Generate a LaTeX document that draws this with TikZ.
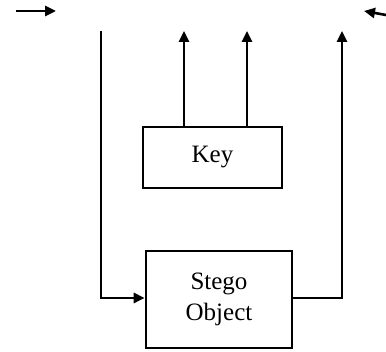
\documentclass[tikz,border=0pt]{standalone}
\usepackage{fontspec}
\setmainfont{Liberation Serif}
\usetikzlibrary{arrows.meta}
\begin{document}
\begin{tikzpicture}[x=1pt,y=-1pt,
  box/.style={draw,line width=2.6pt,inner sep=0pt,align=center,
    font=\fontsize{25}{31}\selectfont},
  link/.style={line width=2.6pt},
  arr/.style={link,-{Triangle[length=11pt,width=10pt]}}]
\useasboundingbox (0,0) rectangle (386,352);
% blocks
\node[box,minimum width=139pt,minimum height=61pt] (key) at (212.5,157.5) {Key};
\node[box,minimum width=146pt,minimum height=97pt] (stego) at (219,299.5) {Stego\\Object};
% free ends
\coordinate (inL) at (16,11);
\coordinate (inLend) at (56,11);
\coordinate (inR) at (386,15);
\coordinate (inRend) at (364,11);
\coordinate (lTop) at (101,31);
\coordinate (lBot) at (101,298);
\coordinate (rBot) at (342,298);
\coordinate (rTop) at (342,31);
\coordinate (k1) at (184,31);
\coordinate (k2) at (247,31);
% connectors
\draw[arr] (inL) -- (inLend);
\draw[arr] (inR) -- (inRend);
\draw[arr] (lTop) -- (lBot) -- (stego.west |- lBot);
\draw[arr] (stego.east |- rBot) -- (rBot) -- (rTop);
\draw[arr] (key.north -| k1) -- (k1);
\draw[arr] (key.north -| k2) -- (k2);
\end{tikzpicture}
\end{document}
